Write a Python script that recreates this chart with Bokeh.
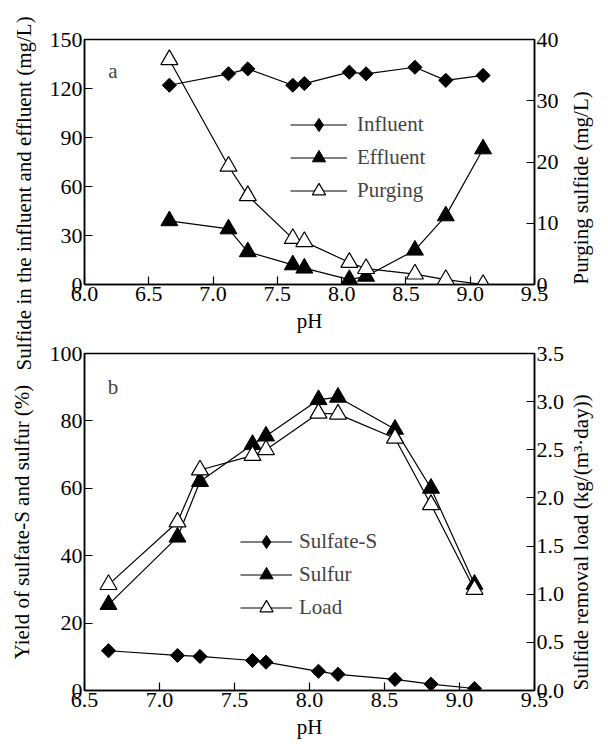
from math import pi
from bokeh.plotting import figure
from bokeh.models import (Range1d, LinearAxis, FixedTicker, PrintfTickFormatter,
                          Label, Legend, LegendItem, Title, Axis)
from bokeh.layouts import column
from bokeh.embed import file_html
from bokeh.resources import INLINE

# ---------------- data ----------------
ph = [6.66, 7.12, 7.27, 7.62, 7.71, 8.06, 8.19, 8.57, 8.81, 9.10]
influent = [122, 129, 132, 122, 123, 130, 129, 133, 125, 128]
effluent = [39, 34, 20, 12, 10, 3, 5, 21, 42, 83]
purging = [36.7, 19.3, 14.5, 7.5, 7.0, 3.6, 2.6, 1.7, 0.8, 0.0]
sulfate_s = [11.8, 10.4, 10.1, 8.9, 8.4, 5.7, 4.8, 3.3, 1.9, 0.6]
sulfur = [25.5, 45.5, 62, 73, 75.5, 86.3, 87, 77.5, 60, 31.5]
load = [1.1, 1.75, 2.29, 2.44, 2.5, 2.88, 2.87, 2.62, 1.93, 1.05]

xticks_a = [6.0, 6.5, 7.0, 7.5, 8.0, 8.5, 9.0, 9.5]
yticks_a = [0, 30, 60, 90, 120, 150]
rticks_a = [0, 10, 20, 30, 40]
xticks_b = [6.5, 7.0, 7.5, 8.0, 8.5, 9.0, 9.5]
yticks_b = [0, 20, 40, 60, 80, 100]
rticks_b = [0.0, 0.5, 1.0, 1.5, 2.0, 2.5, 3.0, 3.5]

FONT = "Liberation Serif"
FS = "21px"
TFS = "22px"
PROPS = Axis.properties()
HAS_ORIENT = "axis_label_orientation" in PROPS
HAS_ALIGN = "axis_label_align" in PROPS


def style_axis(ax, ticks, fmt=None, label=None, standoff=5, right=False):
    ax.ticker = FixedTicker(ticks=ticks)
    if fmt:
        ax.formatter = PrintfTickFormatter(format=fmt)
    ax.axis_line_width = 1.5
    ax.axis_line_color = "black"
    ax.major_tick_in = 8
    ax.major_tick_out = 0
    ax.major_tick_line_width = 1.2
    ax.major_tick_line_color = "black"
    ax.minor_tick_in = 0
    ax.minor_tick_out = 0
    ax.major_label_text_font = FONT
    ax.major_label_text_font_size = TFS
    ax.major_label_text_color = "black"
    ax.major_label_standoff = 2
    if label:
        ax.axis_label = label
        ax.axis_label_text_font = FONT
        ax.axis_label_text_font_size = FS
        ax.axis_label_text_font_style = "normal"
        ax.axis_label_text_color = "black"
        ax.axis_label_standoff = standoff
        if right and HAS_ORIENT and HAS_ALIGN:
            ax.axis_label_orientation = pi / 2
            ax.axis_label_align = "start"


def base(p):
    p.xgrid.visible = False
    p.ygrid.visible = False
    p.outline_line_color = "black"
    p.outline_line_width = 1.5


# ---------------- panel a ----------------
p1 = figure(width=608, height=374, output_backend="svg", toolbar_location=None,
            x_range=Range1d(6.0, 9.5), y_range=Range1d(0, 150),
            min_border_left=82, min_border_right=67, min_border_top=39,
            min_border_bottom=90)
p1.extra_y_ranges = {"r": Range1d(0, 40)}
base(p1)
style_axis(p1.xaxis[0], xticks_a, "%.1f", label="pH", standoff=5)
style_axis(p1.yaxis[0], yticks_a)
ra = LinearAxis(y_range_name="r")
style_axis(ra, rticks_a, label="Purging sulfide (mg/L)", standoff=19, right=True)
p1.add_layout(ra, "right")

l1 = p1.line(ph, influent, line_color="black", line_width=1.2)
d1 = p1.scatter(ph, influent, marker="diamond", size=12,
                fill_color="black", line_color="black")
s1 = p1.scatter(ph, influent, marker="square", angle=pi / 4, size=10,
                fill_color="black", line_color="black")
l2 = p1.line(ph, effluent, line_color="black", line_width=1.2)
s2 = p1.scatter(ph, effluent, marker="triangle", size=17,
                fill_color="black", line_color="black")
l3 = p1.line(ph, purging, line_color="black", line_width=1.2, y_range_name="r")
s3 = p1.scatter(ph, purging, marker="triangle", size=17, y_range_name="r",
                fill_color="white", line_color="black", line_width=1.2)

leg1 = Legend(items=[LegendItem(label="Influent", renderers=[l1, d1]),
                     LegendItem(label="Effluent", renderers=[l2, s2]),
                     LegendItem(label="Purging", renderers=[l3, s3])],
              location=(206, 77), glyph_width=57, glyph_height=33, label_height=33,
              spacing=0, label_standoff=10, padding=0, margin=0,
              border_line_color=None, background_fill_alpha=0,
              label_text_font=FONT, label_text_font_size=FS)
p1.add_layout(leg1, "center")

p1.add_layout(Label(x=6.22, y=131, text="a", text_align="center",
                    text_baseline="middle", text_font=FONT, text_font_size=FS))
p1.add_layout(Title(text="Sulfide in the influent and effluent (mg/L)", align="left",
                    offset=-86, vertical_align="middle", standoff=20,
                    text_font=FONT, text_font_size=FS, text_font_style="normal",
                    text_color="black"), "left")

# ---------------- panel b ----------------
p2 = figure(width=608, height=406, output_backend="svg", toolbar_location=None,
            x_range=Range1d(6.5, 9.5), y_range=Range1d(0, 100),
            min_border_left=82, min_border_right=67, min_border_top=15,
            min_border_bottom=54, margin=(-36, 0, 0, 0))
p2.border_fill_color = None
p2.extra_y_ranges = {"r": Range1d(0, 3.5)}
base(p2)
style_axis(p2.xaxis[0], xticks_b, "%.1f", label="pH", standoff=5)
style_axis(p2.yaxis[0], yticks_b, label="Yield of sulfate-S and sulfur (%)", standoff=13)
rb = LinearAxis(y_range_name="r")
style_axis(rb, rticks_b, "%.1f", label="Sulfide removal load (kg/(m\u00b3\u00b7day))",
           standoff=14, right=True)
p2.add_layout(rb, "right")

m1 = p2.line(ph, sulfate_s, line_color="black", line_width=1.2)
d2 = p2.scatter(ph, sulfate_s, marker="diamond", size=12,
                fill_color="black", line_color="black")
t1 = p2.scatter(ph, sulfate_s, marker="square", angle=pi / 4, size=10,
                fill_color="black", line_color="black")
m2 = p2.line(ph, sulfur, line_color="black", line_width=1.2)
t2 = p2.scatter(ph, sulfur, marker="triangle", size=17,
                fill_color="black", line_color="black")
m3 = p2.line(ph, load, line_color="black", line_width=1.2, y_range_name="r")
t3 = p2.scatter(ph, load, marker="triangle", size=17, y_range_name="r",
                fill_color="white", line_color="black", line_width=1.2)

leg2 = Legend(items=[LegendItem(label="Sulfate-S", renderers=[m1, d2]),
                     LegendItem(label="Sulfur", renderers=[m2, t2]),
                     LegendItem(label="Load", renderers=[m3, t3])],
              location=(156, 66), glyph_width=52, glyph_height=33, label_height=33,
              spacing=0, label_standoff=7, padding=0, margin=0,
              border_line_color=None, background_fill_alpha=0,
              label_text_font=FONT, label_text_font_size=FS)
p2.add_layout(leg2, "center")

p2.add_layout(Label(x=6.69, y=90, text="b", text_align="center",
                    text_baseline="middle", text_font=FONT, text_font_size=FS))

layout = column(p1, p2)
open("out.html", "w").write(file_html(layout, INLINE))
